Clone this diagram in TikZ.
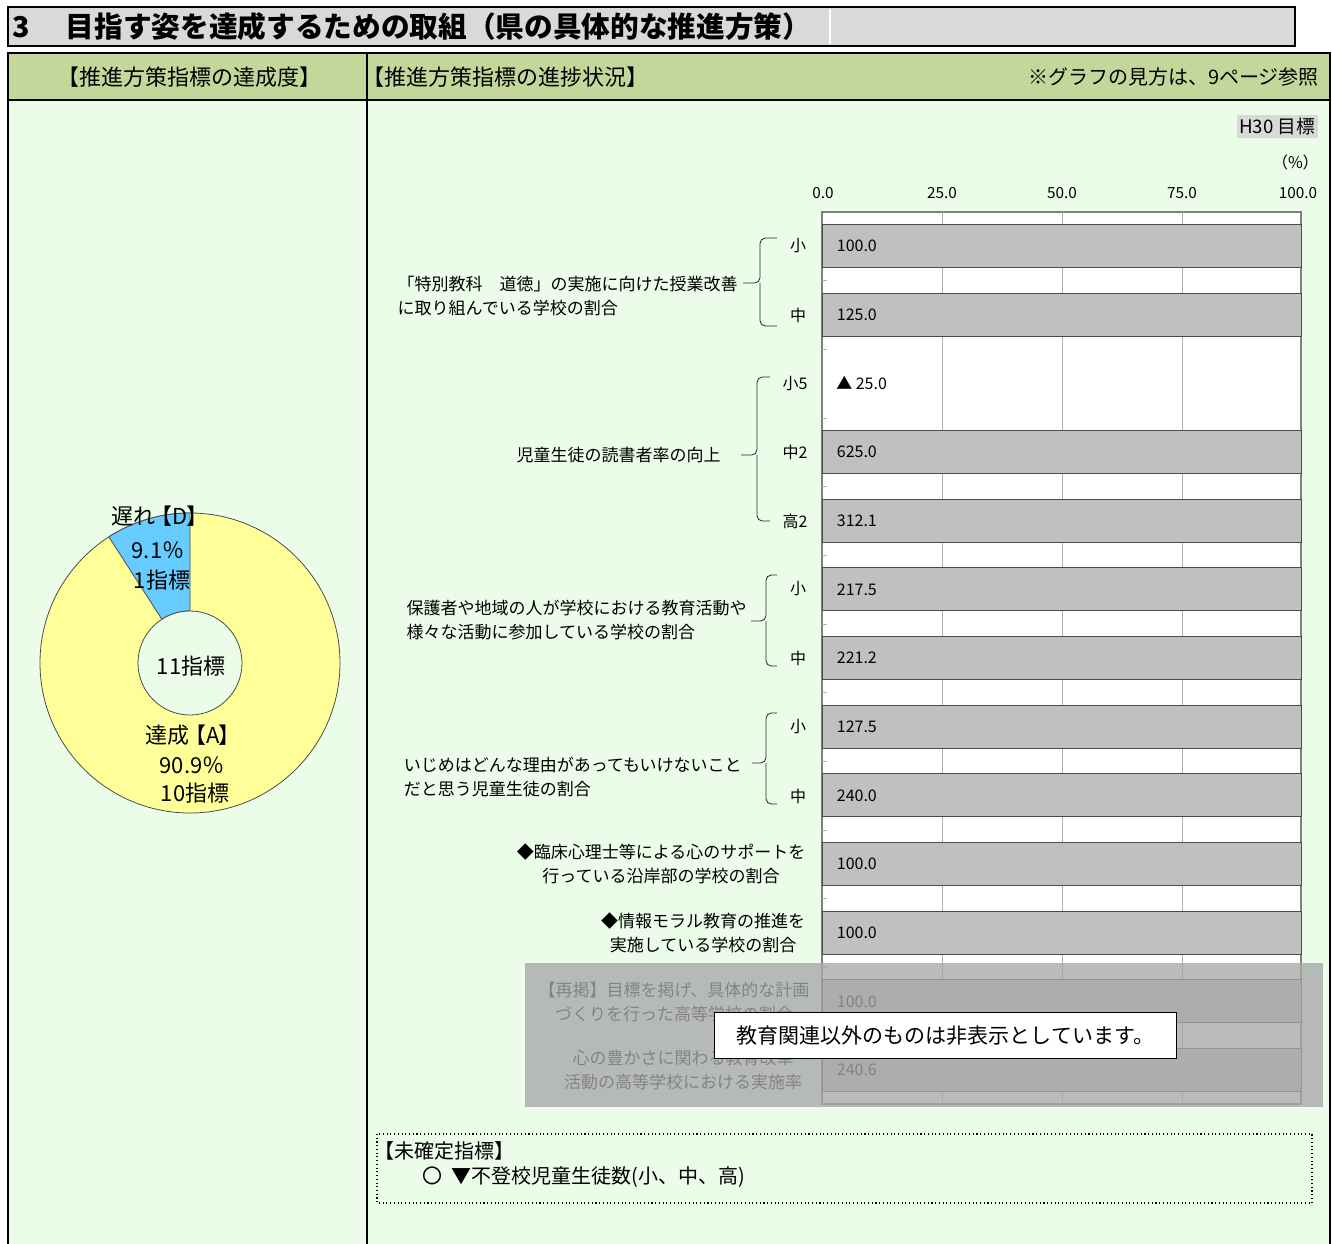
\documentclass[tikz,border=0pt]{standalone}
\usepackage{fontspec}
\setmainfont{Noto Sans CJK JP}
\usepackage{tikz}
\usetikzlibrary{positioning,calc}

\definecolor{titlegray}{RGB}{217,217,217}
\definecolor{headgreen}{RGB}{196,215,155}
\definecolor{bodygreen}{RGB}{235,253,233}
\definecolor{barfill}{RGB}{192,192,192}
\definecolor{gridgray}{RGB}{175,175,175}
\definecolor{donutyellow}{RGB}{255,255,153}
\definecolor{donutblue}{RGB}{102,204,255}
\definecolor{shadegray}{RGB}{168,168,168}

\begin{document}
\begin{tikzpicture}[
    x=0.75pt, y=-0.75pt,
    frame/.style={draw=black, line width=1.5pt},
    bar/.style={rectangle, draw=black!70, fill=barfill, line width=0.6pt, minimum width=359.25pt, minimum height=32.25pt, inner sep=0pt},
    gridline/.style={draw=gridgray, line width=0.6pt},
    value/.style={inner sep=0pt, font=\fontsize{12}{14}\selectfont},
    axistext/.style={inner sep=0pt, font=\fontsize{11.5}{13}\selectfont},
    school/.style={inner sep=0pt, font=\fontsize{12}{14}\selectfont},
    itemtext/.style={align=left, inner sep=0pt, font=\fontsize{12.75}{18}\selectfont},
    bracket/.style={draw=black!85, line width=0.6pt, rounded corners=4pt},
    donuttext/.style={inner sep=0pt, font=\fontsize{16.5}{18}\selectfont}
]

\fill[white] (0,0) rectangle (1332,1243);
\useasboundingbox (0,0) rectangle (1332,1243);

% Title bar
\draw[frame, fill=titlegray] (8,7) rectangle (1295,46);
\draw[white, line width=0.8pt] (830,9) -- (830,44);
\node[anchor=west, inner sep=0pt, font=\bfseries\fontsize{21.5}{24}\selectfont] (title) at (12,27) {3\hspace{27pt}目指す姿を達成するための取組（県の具体的な推進方策）};

% Header row and body
\draw[frame, fill=headgreen] (8,53) rectangle (1330,100);
\draw[frame, fill=bodygreen] (8,100) rectangle (1330,1262);
\draw[frame] (367,53) -- (367,1262);

\node[inner sep=0pt, font=\fontsize{16.5}{18}\selectfont] (rate_head) at (189,77) {【推進方策指標の達成度】};
\node[anchor=west, inner sep=0pt, font=\fontsize{16.5}{18}\selectfont] (progress_head) at (362,77) {【推進方策指標の進捗状況】};
\node[anchor=east, inner sep=0pt, font=\fontsize{15}{17}\selectfont] (guide_note) at (1319,77) {※グラフの見方は、9ページ参照};

% Left side: achievement donut
\begin{scope}[shift={(190,663)}, y=0.75pt]
  \draw[fill=donutyellow, draw=black!70, line width=0.6pt] (0,0) circle[radius=150];
  \draw[fill=donutblue, draw=black!70, line width=0.6pt] (90:52) -- (90:150) arc[start angle=90, end angle=122.76, radius=150] -- (122.76:52) arc[start angle=122.76, end angle=90, radius=52] -- cycle;
  \draw[fill=bodygreen, draw=black!70, line width=0.6pt] (0,0) circle[radius=52];
\end{scope}

\node[donuttext] (late_label) at (160,516) {遅れ\hspace{-4pt}【D\hspace{-1pt}】};
\node[donuttext] (late_pct) at (158,550) {9.1％};
\node[donuttext] (late_cnt) at (162,580) {1指標};
\node[donuttext] (total_cnt) at (191,666) {11指標};
\node[donuttext] (done_label) at (193,735) {達成\hspace{-4pt}【A\hspace{-1pt}】};
\node[donuttext] (done_pct) at (192,765) {90.9％};
\node[donuttext] (done_cnt) at (195,793) {10指標};

% Right side: progress chart
\node[anchor=east, fill=titlegray, inner sep=2pt, font=\fontsize{14}{16}\selectfont] (h30) at (1318,126.5) {H30 目標};
\node[anchor=east, inner sep=0pt, font=\fontsize{12}{14}\selectfont] (pct) at (1319,162) {（\%）};

\draw[draw=black!50, fill=white, line width=0.8pt] (822,212) rectangle (1301,1104);
\foreach \gx in {942,1062,1182}
  \draw[gridline] (\gx,212) -- (\gx,1104);
\foreach \k in {1,...,12}
  \draw[gridline] (822,{212+68.67*\k}) -- ++(5,0);
\foreach \gx/\gt [count=\n] in {823/0.0,942/25.0,1062/50.0,1182/75.0,1298/100.0}
  \node[axistext] (axis\n) at (\gx,193) {\gt};

\foreach \i/\v in {1/100.0,2/125.0,4/625.0,5/312.1,6/217.5,7/221.2,8/127.5,9/240.0,10/100.0,11/100.0,12/100.0,13/240.6} {
  \node[bar] (bar\i) at (1061.5,{246+68.67*(\i-1)}) {};
  \node[value, right=11.25pt of bar\i.west] (val\i) {\v};
}
\node[value, anchor=west] (val3) at (836,383.3) {▲ 25.0};

% School levels
\node[school] (sch1) at (798,246) {小};
\node[school] (sch2) at (798,315) {中};
\node[school] (sch3) at (795,384) {小5};
\node[school] (sch4) at (795,452) {中2};
\node[school] (sch5) at (795,521) {高2};
\node[school] (sch6) at (798,589) {小};
\node[school] (sch7) at (798,658) {中};
\node[school] (sch8) at (798,727) {小};
\node[school] (sch9) at (798,796) {中};

% Indicator groups with brackets
\coordinate (g1top) at (777,238);
\coordinate (g1bot) at (777,326);
\coordinate (g1tip) at (743,283);
\draw[bracket] (g1top) -| ($(g1tip)+(17,0)$) -- (g1tip) (g1bot) -| ($(g1tip)+(17,0)$);
\node[itemtext, anchor=east] (item1) at (738,296) {「特別教科　道徳」の実施に向けた授業改善\\に取り組んでいる学校の割合};

\coordinate (g2top) at (770,377);
\coordinate (g2bot) at (770,521);
\coordinate (g2tip) at (741,455);
\draw[bracket] (g2top) -| ($(g2tip)+(16,0)$) -- (g2tip) (g2bot) -| ($(g2tip)+(16,0)$);
\node[itemtext, anchor=east] (item2) at (721,455) {児童生徒の読書者率の向上};

\coordinate (g3top) at (777,575);
\coordinate (g3bot) at (777,666);
\coordinate (g3tip) at (751,621);
\draw[bracket] (g3top) -| ($(g3tip)+(15,0)$) -- (g3tip) (g3bot) -| ($(g3tip)+(15,0)$);
\node[itemtext, anchor=east] (item3) at (747,620) {保護者や地域の人が学校における教育活動や\\様々な活動に参加している学校の割合};

\coordinate (g4top) at (777,713);
\coordinate (g4bot) at (777,804);
\coordinate (g4tip) at (752,763);
\draw[bracket] (g4top) -| ($(g4tip)+(14,0)$) -- (g4tip) (g4bot) -| ($(g4tip)+(14,0)$);
\node[itemtext, anchor=east] (item4) at (742,777) {いじめはどんな理由があってもいけないこと\\だと思う児童生徒の割合};

\node[itemtext, align=center] (item5) at (661,864) {◆臨床心理士等による心のサポートを\\行っている沿岸部の学校の割合};
\node[itemtext, align=center] (item6) at (703,933) {◆情報モラル教育の推進を\\実施している学校の割合};
\node[itemtext, align=center] (item7) at (674,1002) {【再掲】目標を掲げ、具体的な計画\\づくりを行った高等学校の割合};
\node[itemtext, align=center] (item8) at (683,1070) {心の豊かさに関わる教育改革\\活動の高等学校における実施率};

% Hidden part
\fill[shadegray, opacity=0.78] (525,963) rectangle (1323,1107);
\node[draw=black, fill=white, line width=0.8pt, minimum width=347pt, minimum height=35pt, font=\fontsize{15.75}{18}\selectfont] (hidden_note) at (945.5,1035.5) {教育関連以外のものは非表示としています。};

% Pending indicators
\draw[dotted, line width=0.8pt] (377,1134) rectangle (1312,1203);
\node[anchor=west, inner sep=0pt, font=\fontsize{15}{17}\selectfont] (pending_title) at (374,1151) {【未確定指標】};
\node[anchor=west, inner sep=0pt, font=\fontsize{15}{17}\selectfont] (pending_item) at (422,1177) {〇\hspace{7pt}▼不登校児童生徒数(小、中、高)};

\end{tikzpicture}
\end{document}
